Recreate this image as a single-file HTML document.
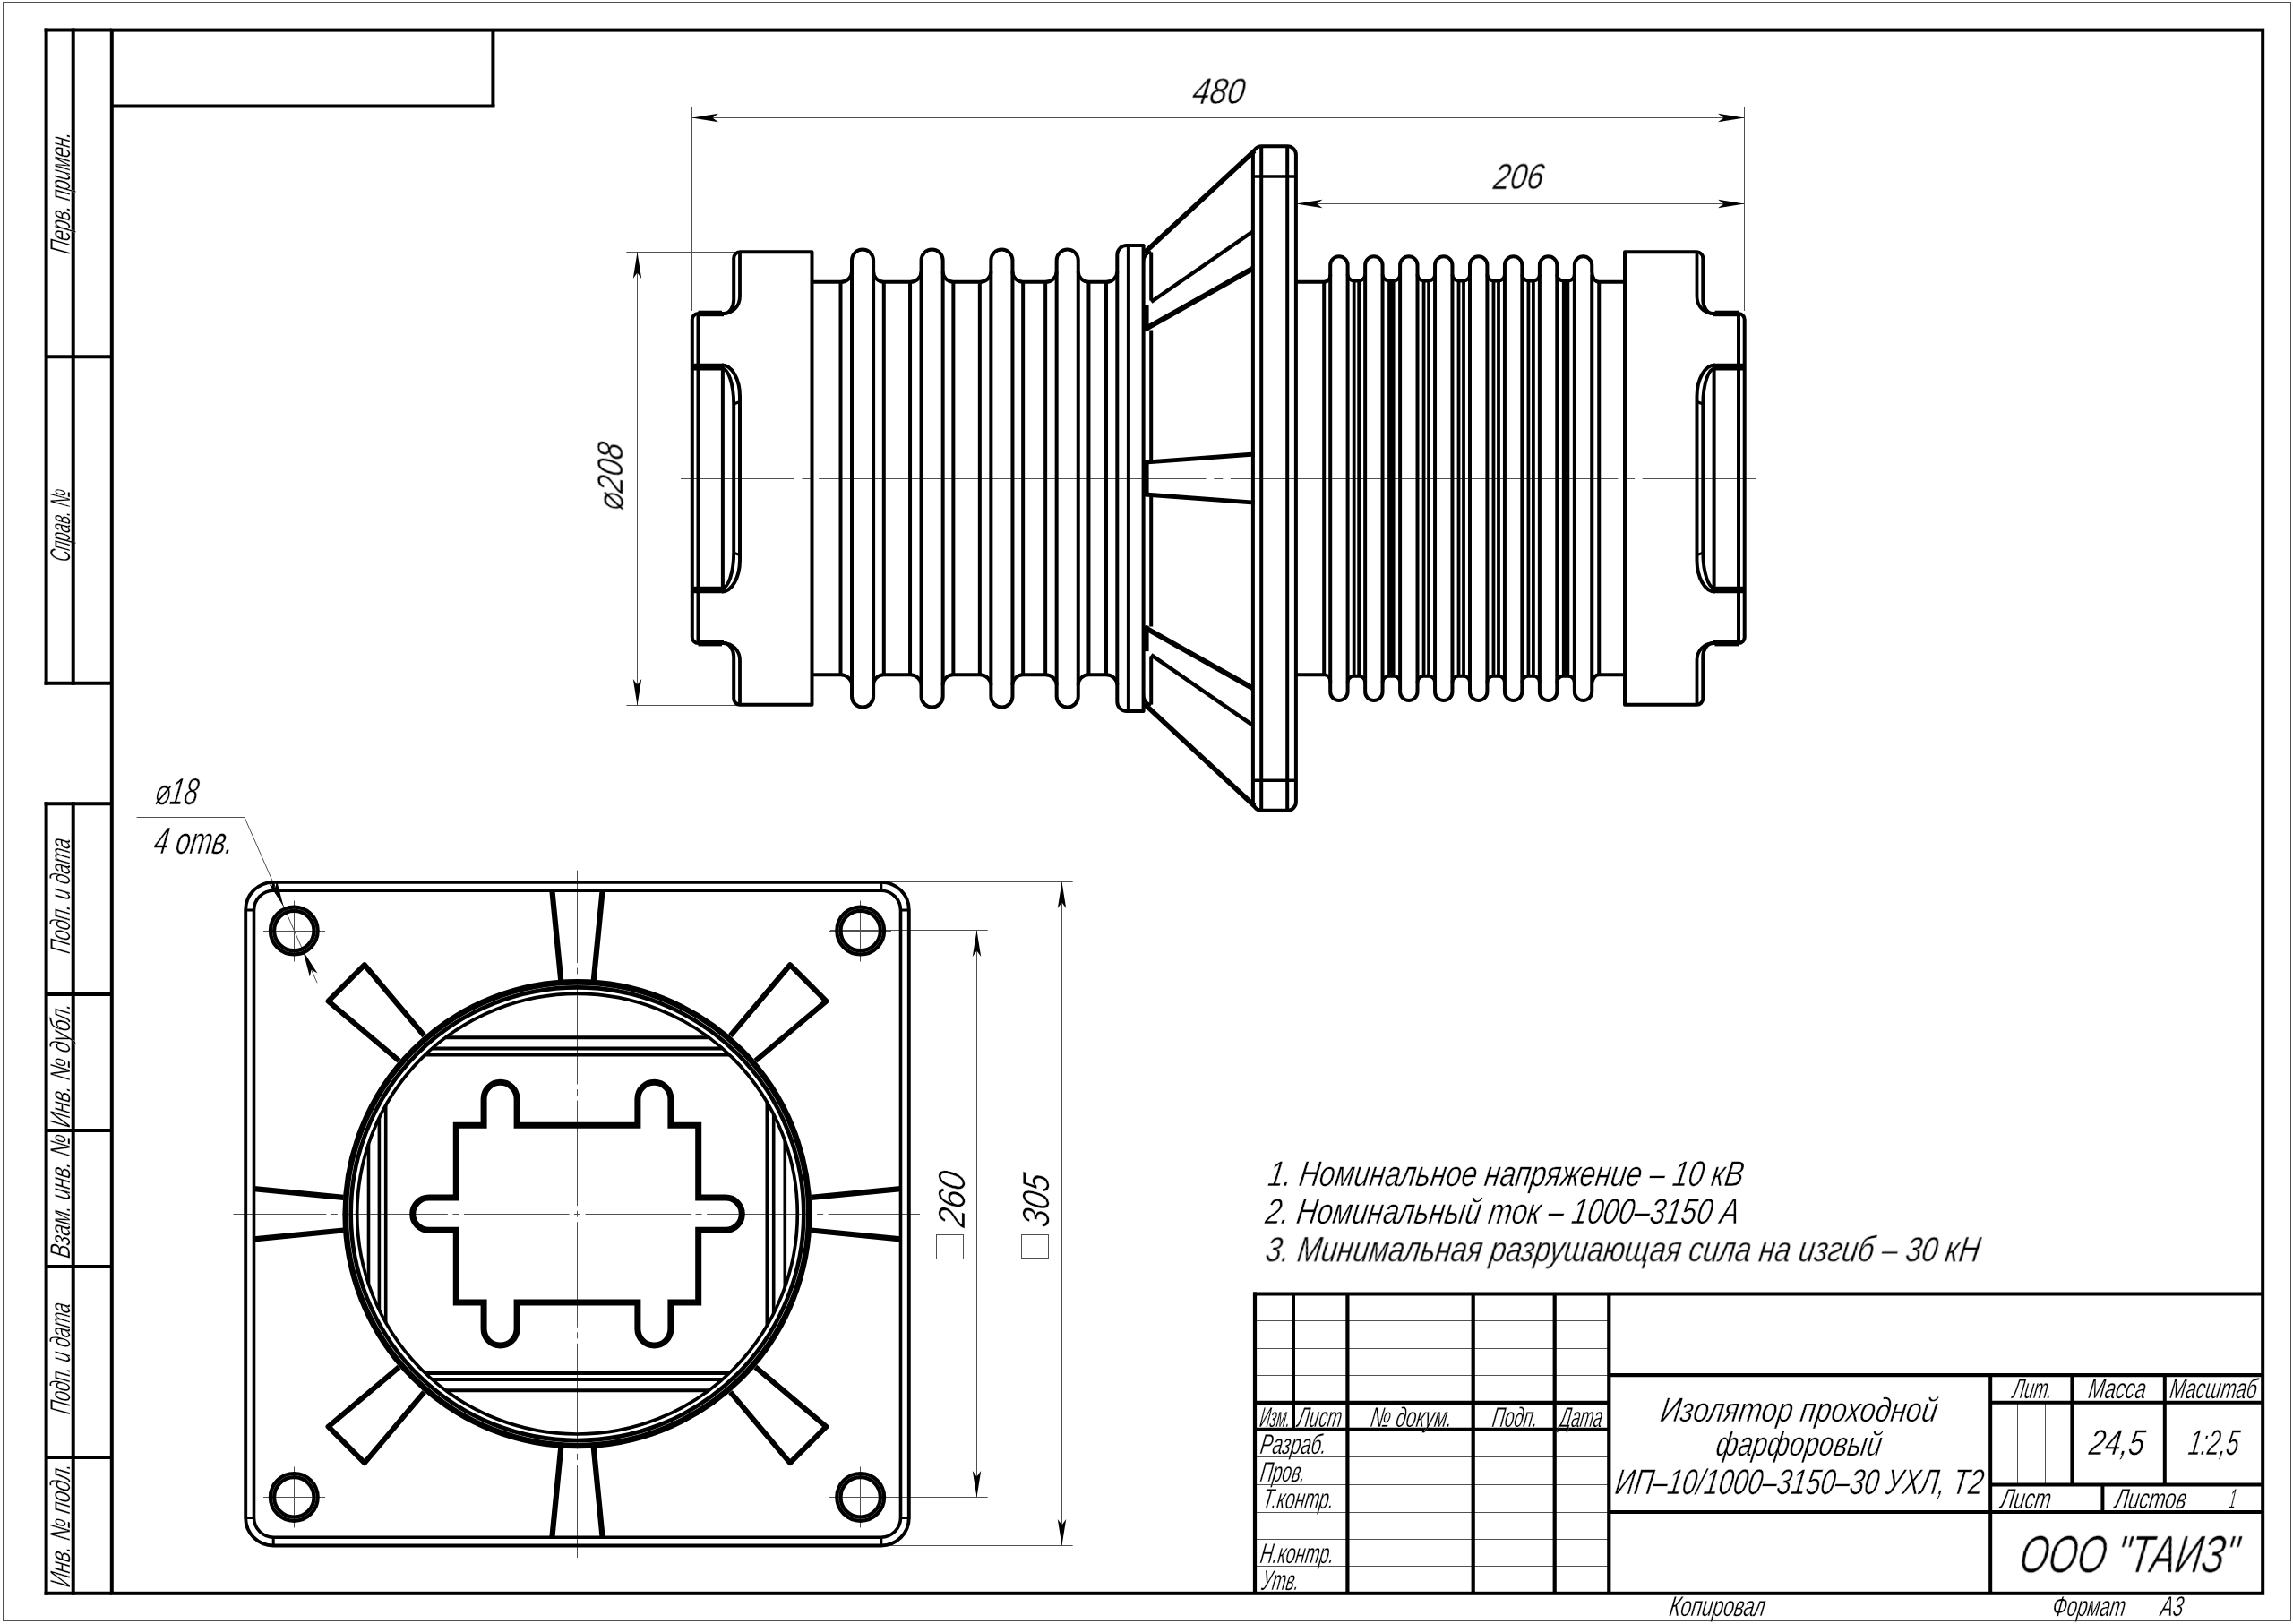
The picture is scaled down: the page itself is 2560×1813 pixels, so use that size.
<!DOCTYPE html>
<html lang="ru"><head><meta charset="utf-8"><title>Изолятор проходной фарфоровый ИП-10</title>
<style>html,body{margin:0;padding:0;background:#fff}svg{display:block}</style></head>
<body>
<svg width="2560" height="1813" viewBox="0 0 2560 1813">
<rect width="2560" height="1813" fill="#fff"/>
<rect x="3.5" y="2.5" width="2554.0" height="1807.0" fill="none" stroke="#505050" stroke-width="1"/>
<rect x="124.8" y="33.6" width="2401.3999999999996" height="1745.2" fill="none" stroke="#000" stroke-width="4"/>
<line x1="550.40" y1="33.60" x2="550.40" y2="118.40" stroke="#000" stroke-width="4" />
<line x1="124.80" y1="118.40" x2="552.40" y2="118.40" stroke="#000" stroke-width="4" />
<line x1="51.60" y1="31.60" x2="51.60" y2="764.80" stroke="#000" stroke-width="4" />
<line x1="81.70" y1="31.60" x2="81.70" y2="764.80" stroke="#000" stroke-width="4" />
<line x1="49.60" y1="33.60" x2="124.80" y2="33.60" stroke="#000" stroke-width="4" />
<line x1="51.60" y1="398.20" x2="124.80" y2="398.20" stroke="#000" stroke-width="4" />
<line x1="49.60" y1="762.80" x2="124.80" y2="762.80" stroke="#000" stroke-width="4" />
<line x1="51.60" y1="895.20" x2="51.60" y2="1780.80" stroke="#000" stroke-width="4" />
<line x1="81.70" y1="895.20" x2="81.70" y2="1780.80" stroke="#000" stroke-width="4" />
<line x1="49.60" y1="897.20" x2="124.80" y2="897.20" stroke="#000" stroke-width="4" />
<line x1="51.60" y1="1110.00" x2="124.80" y2="1110.00" stroke="#000" stroke-width="4" />
<line x1="51.60" y1="1262.00" x2="124.80" y2="1262.00" stroke="#000" stroke-width="4" />
<line x1="51.60" y1="1414.00" x2="124.80" y2="1414.00" stroke="#000" stroke-width="4" />
<line x1="51.60" y1="1626.90" x2="124.80" y2="1626.90" stroke="#000" stroke-width="4" />
<line x1="49.60" y1="1778.80" x2="124.80" y2="1778.80" stroke="#000" stroke-width="4" />
<line x1="1401.00" y1="1474.50" x2="1796.30" y2="1474.50" stroke="#505050" stroke-width="1" />
<line x1="1401.00" y1="1505.50" x2="1796.30" y2="1505.50" stroke="#505050" stroke-width="1" />
<line x1="1401.00" y1="1535.50" x2="1796.30" y2="1535.50" stroke="#505050" stroke-width="1" />
<line x1="1401.00" y1="1626.50" x2="1796.30" y2="1626.50" stroke="#505050" stroke-width="1" />
<line x1="1401.00" y1="1657.50" x2="1796.30" y2="1657.50" stroke="#505050" stroke-width="1" />
<line x1="1401.00" y1="1688.50" x2="1796.30" y2="1688.50" stroke="#505050" stroke-width="1" />
<line x1="1401.00" y1="1718.50" x2="1796.30" y2="1718.50" stroke="#505050" stroke-width="1" />
<line x1="1401.00" y1="1748.50" x2="1796.30" y2="1748.50" stroke="#505050" stroke-width="1" />
<line x1="2252.50" y1="1565.80" x2="2252.50" y2="1657.40" stroke="#505050" stroke-width="1" />
<line x1="2283.50" y1="1565.80" x2="2283.50" y2="1657.40" stroke="#505050" stroke-width="1" />
<line x1="1401.00" y1="1442.50" x2="1401.00" y2="1778.80" stroke="#000" stroke-width="4.2" />
<line x1="1444.00" y1="1444.50" x2="1444.00" y2="1595.80" stroke="#000" stroke-width="4" />
<line x1="1504.40" y1="1444.50" x2="1504.40" y2="1778.80" stroke="#000" stroke-width="4.2" />
<line x1="1644.70" y1="1444.50" x2="1644.70" y2="1778.80" stroke="#000" stroke-width="4.2" />
<line x1="1735.70" y1="1444.50" x2="1735.70" y2="1778.80" stroke="#000" stroke-width="4.2" />
<line x1="1796.30" y1="1444.50" x2="1796.30" y2="1778.80" stroke="#000" stroke-width="4.2" />
<line x1="1399.00" y1="1444.50" x2="2526.20" y2="1444.50" stroke="#000" stroke-width="4" />
<line x1="1401.00" y1="1565.80" x2="1796.30" y2="1565.80" stroke="#000" stroke-width="4.2" />
<line x1="1401.00" y1="1595.80" x2="1796.30" y2="1595.80" stroke="#000" stroke-width="4.2" />
<line x1="1796.30" y1="1535.20" x2="2526.20" y2="1535.20" stroke="#000" stroke-width="4.2" />
<line x1="1796.30" y1="1688.00" x2="2526.20" y2="1688.00" stroke="#000" stroke-width="4.2" />
<line x1="2222.20" y1="1535.20" x2="2222.20" y2="1778.80" stroke="#000" stroke-width="4" />
<line x1="2222.20" y1="1565.80" x2="2526.20" y2="1565.80" stroke="#000" stroke-width="4" />
<line x1="2222.20" y1="1657.40" x2="2526.20" y2="1657.40" stroke="#000" stroke-width="4" />
<line x1="2313.40" y1="1535.20" x2="2313.40" y2="1657.40" stroke="#000" stroke-width="4" />
<line x1="2416.80" y1="1535.20" x2="2416.80" y2="1657.40" stroke="#000" stroke-width="4" />
<line x1="2347.40" y1="1657.40" x2="2347.40" y2="1688.00" stroke="#000" stroke-width="4" />
<g stroke="#505050" stroke-width="1" fill="none">
<path d="M772.5,120V347M1947.5,119V347M772.5,131.5H1947.5"/>
<path d="M1447,227.5H1947.5"/>
<path d="M699.3,281.5H822M699.3,787.5H822M711.5,281.5V787.5"/>
<path d="M926.8,1038.5H1102.7M926.8,1671.5H1102.7M1090.5,1038.5V1671.5"/>
<path d="M985,984.5H1197.7M985,1725.5H1197.7M1185.5,984.5V1725.5"/>
<path d="M152.6,912.5H273L354.1,1097.3"/>
</g>
<line x1="760" y1="534.5" x2="1960.3" y2="534.5" stroke="#505050" stroke-width="1" stroke-dasharray="432.5 8.7 10 8.6" stroke-dashoffset="305.7"/>
<line x1="644.5" y1="971.7" x2="644.5" y2="1739" stroke="#505050" stroke-width="1" stroke-dasharray="117.6 5.5 7 5.5" stroke-dashoffset="14.3"/>
<line x1="260.4" y1="1355.5" x2="1027" y2="1355.5" stroke="#505050" stroke-width="1" stroke-dasharray="117.6 5.5 7 5.5" stroke-dashoffset="13.7"/>
<path d="M294.0,1039.5H363.0M328.5,1005.5V1073.5" stroke="#505050" stroke-width="1" fill="none"/>
<path d="M294.0,1671.5H363.0M328.5,1637.5V1705.5" stroke="#505050" stroke-width="1" fill="none"/>
<path d="M926.0,1039.5H995.0M960.5,1005.5V1073.5" stroke="#505050" stroke-width="1" fill="none"/>
<path d="M926.0,1671.5H995.0M960.5,1637.5V1705.5" stroke="#505050" stroke-width="1" fill="none"/>
<g fill="none" stroke="#000" stroke-linecap="butt" stroke-linejoin="round">
<path d="M772.80,534.05V356.7A6.7,6.7 0 0 1 779.50,350H808.00A11.2,15 0 0 0 819.20,335V288.3A7,7 0 0 1 826.20,281.3H906.50V534.05" stroke-width="4.0"/>
<path d="M779.50,348.3H806.00" stroke-width="3.2"/>
<path d="M779.50,351.6H808.00" stroke-width="3.2"/>
<path d="M779.50,350.00V534.05" stroke-width="4.0"/>
<path d="M826.00,281.3V331A18,19 0 0 1 808.00,350" stroke-width="3.8"/>
<path d="M772.80,409.6H808.00" stroke-width="7.6"/>
<path d="M806.90,411.00V534.05" stroke-width="4.0"/>
<path d="M806.00,407.6A20,35 0 0 1 826.00,442.5V534.05" stroke-width="4.0"/>
<path d="M806.00,411.4A13.2,40 0 0 1 819.20,451V534.05" stroke-width="3.9"/>
<path d="M819.20,451L826.00,448.5" stroke-width="3"/>
<path d="M1947.70,534.05V356.7A6.7,6.7 0 0 0 1941.00,350H1912.50A11.2,15 0 0 1 1901.30,335V288.3A7,7 0 0 0 1894.30,281.3H1814.00V534.05" stroke-width="4.0"/>
<path d="M1941.00,348.3H1914.50" stroke-width="3.2"/>
<path d="M1941.00,351.6H1912.50" stroke-width="3.2"/>
<path d="M1941.00,350.00V534.05" stroke-width="4.0"/>
<path d="M1894.50,281.3V331A18,19 0 0 0 1912.50,350" stroke-width="3.8"/>
<path d="M1947.70,409.6H1912.50" stroke-width="7.6"/>
<path d="M1913.60,411.00V534.05" stroke-width="4.0"/>
<path d="M1914.50,407.6A20,35 0 0 0 1894.50,442.5V534.05" stroke-width="4.0"/>
<path d="M1914.50,411.4A13.2,40 0 0 0 1901.30,451V534.05" stroke-width="3.9"/>
<path d="M1901.30,451L1894.50,448.5" stroke-width="3"/>
<path d="M938.50,314.80V534.05" stroke-width="4.0"/>
<path d="M951.00,303.30V534.05" stroke-width="4.0"/>
<path d="M975.10,303.30V534.05" stroke-width="4.0"/>
<path d="M986.80,314.80V534.05" stroke-width="4.0"/>
<path d="M1016.05,314.80V534.05" stroke-width="4.0"/>
<path d="M1028.55,303.30V534.05" stroke-width="4.0"/>
<path d="M1052.65,303.30V534.05" stroke-width="4.0"/>
<path d="M1064.35,314.80V534.05" stroke-width="4.0"/>
<path d="M1093.85,314.80V534.05" stroke-width="4.0"/>
<path d="M1106.35,303.30V534.05" stroke-width="4.0"/>
<path d="M1130.45,303.30V534.05" stroke-width="4.0"/>
<path d="M1142.15,314.80V534.05" stroke-width="4.0"/>
<path d="M1167.15,314.80V534.05" stroke-width="4.0"/>
<path d="M1179.65,303.30V534.05" stroke-width="4.0"/>
<path d="M1203.75,303.30V534.05" stroke-width="4.0"/>
<path d="M1215.45,314.80V534.05" stroke-width="4.0"/>
<path d="M906.5,314.8H938.50A12.5,11.5 0 0 0 951.00,303.30V290.65A12.05,12.05 0 0 1 975.10,290.65V303.30A11.7,11.5 0 0 0 986.80,314.8H1016.05A12.5,11.5 0 0 0 1028.55,303.30V290.65A12.05,12.05 0 0 1 1052.65,290.65V303.30A11.7,11.5 0 0 0 1064.35,314.8H1093.85A12.5,11.5 0 0 0 1106.35,303.30V290.65A12.05,12.05 0 0 1 1130.45,290.65V303.30A11.7,11.5 0 0 0 1142.15,314.8H1167.15A12.5,11.5 0 0 0 1179.65,303.30V290.65A12.05,12.05 0 0 1 1203.75,290.65V303.30A11.7,11.5 0 0 0 1215.45,314.8H1235A12.3,11.5 0 0 0 1247.3,303.30V284.6A10.5,10.5 0 0 1 1257.8,274.1H1276.6V534.05" stroke-width="4.0"/>
<path d="M1235.00,314.80V534.05" stroke-width="4.0"/>
<path d="M1247.30,303.30V534.05" stroke-width="4.0"/>
<path d="M1259.90,274.10V534.05" stroke-width="4.0"/>
<path d="M1276.6,294A9,12 0 0 1 1285.2,281.5" stroke-width="3"/>
<path d="M1285.20,281.50V335.50" stroke-width="4.0"/>
<path d="M1285.20,368.50V513.20" stroke-width="4.0"/>
<path d="M1279.00,341.00V369.50" stroke-width="7.2"/>
<path d="M1279.00,514.50V534.05" stroke-width="7.2"/>
<path d="M1277.5,282.3L1400.5,168.5" stroke-width="5.6"/>
<path d="M1285.2,337L1398.9,258.2" stroke-width="4.4"/>
<path d="M1278,367.6L1398.9,299.6" stroke-width="6.0"/>
<path d="M1278,516.1L1400.5,507" stroke-width="4.8"/>
<path d="M1398.9,534.05V172.5A9.5,9.2 0 0 1 1408.2,163.3H1437.4A9.5,9.5 0 0 1 1446.9,172.8V534.05" stroke-width="4.0"/>
<path d="M1408.20,163.30V534.05" stroke-width="4.0"/>
<path d="M1437.20,163.30V534.05" stroke-width="4.0"/>
<path d="M1398.9,196.9H1446.9" stroke-width="3.5"/>
<path d="M1478.20,314.80V534.05" stroke-width="4.0"/>
<path d="M1485.20,306.40V534.05" stroke-width="4.0"/>
<path d="M1504.60,306.40V534.05" stroke-width="4.0"/>
<path d="M1511.67,313.40V534.05" stroke-width="3.8"/>
<path d="M1517.17,313.40V534.05" stroke-width="3.8"/>
<path d="M1524.15,306.40V534.05" stroke-width="4.0"/>
<path d="M1543.55,306.40V534.05" stroke-width="4.0"/>
<path d="M1553.33,313.40V534.05" stroke-width="8.4"/>
<path d="M1563.10,306.40V534.05" stroke-width="4.0"/>
<path d="M1582.50,306.40V534.05" stroke-width="4.0"/>
<path d="M1589.58,313.40V534.05" stroke-width="3.8"/>
<path d="M1595.08,313.40V534.05" stroke-width="3.8"/>
<path d="M1602.05,306.40V534.05" stroke-width="4.0"/>
<path d="M1621.45,306.40V534.05" stroke-width="4.0"/>
<path d="M1628.52,313.40V534.05" stroke-width="3.8"/>
<path d="M1634.02,313.40V534.05" stroke-width="3.8"/>
<path d="M1641.00,306.40V534.05" stroke-width="4.0"/>
<path d="M1660.40,306.40V534.05" stroke-width="4.0"/>
<path d="M1667.48,313.40V534.05" stroke-width="3.8"/>
<path d="M1672.98,313.40V534.05" stroke-width="3.8"/>
<path d="M1679.95,306.40V534.05" stroke-width="4.0"/>
<path d="M1699.35,306.40V534.05" stroke-width="4.0"/>
<path d="M1706.42,313.40V534.05" stroke-width="3.8"/>
<path d="M1711.92,313.40V534.05" stroke-width="3.8"/>
<path d="M1718.90,306.40V534.05" stroke-width="4.0"/>
<path d="M1738.30,306.40V534.05" stroke-width="4.0"/>
<path d="M1748.08,313.40V534.05" stroke-width="8.4"/>
<path d="M1757.85,306.40V534.05" stroke-width="4.0"/>
<path d="M1777.25,306.40V534.05" stroke-width="4.0"/>
<path d="M1785.25,314.80V534.05" stroke-width="4.0"/>
<path d="M1446.9,314.8H1478.2A7,7 0 0 0 1485.20,307.80V295.90A9.7,9.7 0 0 1 1504.60,295.90V306.40A7,7 0 0 0 1511.60,313.4H1517.15A7,7 0 0 0 1524.15,306.40V295.90A9.7,9.7 0 0 1 1543.55,295.90V306.40A7,7 0 0 0 1550.55,313.4H1556.10A7,7 0 0 0 1563.10,306.40V295.90A9.7,9.7 0 0 1 1582.50,295.90V306.40A7,7 0 0 0 1589.50,313.4H1595.05A7,7 0 0 0 1602.05,306.40V295.90A9.7,9.7 0 0 1 1621.45,295.90V306.40A7,7 0 0 0 1628.45,313.4H1634.00A7,7 0 0 0 1641.00,306.40V295.90A9.7,9.7 0 0 1 1660.40,295.90V306.40A7,7 0 0 0 1667.40,313.4H1672.95A7,7 0 0 0 1679.95,306.40V295.90A9.7,9.7 0 0 1 1699.35,295.90V306.40A7,7 0 0 0 1706.35,313.4H1711.90A7,7 0 0 0 1718.90,306.40V295.90A9.7,9.7 0 0 1 1738.30,295.90V306.40A7,7 0 0 0 1745.30,313.4H1750.85A7,7 0 0 0 1757.85,306.40V295.90A9.7,9.7 0 0 1 1777.25,295.90V303.80A8,11 0 0 0 1785.25,314.8H1813.4" stroke-width="4.0"/>
<g transform="translate(0 1068.1) scale(1 -1)">
<path d="M772.80,534.05V356.7A6.7,6.7 0 0 1 779.50,350H808.00A11.2,15 0 0 0 819.20,335V288.3A7,7 0 0 1 826.20,281.3H906.50V534.05" stroke-width="4.0"/>
<path d="M779.50,348.3H806.00" stroke-width="3.2"/>
<path d="M779.50,351.6H808.00" stroke-width="3.2"/>
<path d="M779.50,350.00V534.05" stroke-width="4.0"/>
<path d="M826.00,281.3V331A18,19 0 0 1 808.00,350" stroke-width="3.8"/>
<path d="M772.80,409.6H808.00" stroke-width="7.6"/>
<path d="M806.90,411.00V534.05" stroke-width="4.0"/>
<path d="M806.00,407.6A20,35 0 0 1 826.00,442.5V534.05" stroke-width="4.0"/>
<path d="M806.00,411.4A13.2,40 0 0 1 819.20,451V534.05" stroke-width="3.9"/>
<path d="M819.20,451L826.00,448.5" stroke-width="3"/>
<path d="M1947.70,534.05V356.7A6.7,6.7 0 0 0 1941.00,350H1912.50A11.2,15 0 0 1 1901.30,335V288.3A7,7 0 0 0 1894.30,281.3H1814.00V534.05" stroke-width="4.0"/>
<path d="M1941.00,348.3H1914.50" stroke-width="3.2"/>
<path d="M1941.00,351.6H1912.50" stroke-width="3.2"/>
<path d="M1941.00,350.00V534.05" stroke-width="4.0"/>
<path d="M1894.50,281.3V331A18,19 0 0 0 1912.50,350" stroke-width="3.8"/>
<path d="M1947.70,409.6H1912.50" stroke-width="7.6"/>
<path d="M1913.60,411.00V534.05" stroke-width="4.0"/>
<path d="M1914.50,407.6A20,35 0 0 0 1894.50,442.5V534.05" stroke-width="4.0"/>
<path d="M1914.50,411.4A13.2,40 0 0 0 1901.30,451V534.05" stroke-width="3.9"/>
<path d="M1901.30,451L1894.50,448.5" stroke-width="3"/>
<path d="M938.50,314.80V534.05" stroke-width="4.0"/>
<path d="M951.00,303.30V534.05" stroke-width="4.0"/>
<path d="M975.10,303.30V534.05" stroke-width="4.0"/>
<path d="M986.80,314.80V534.05" stroke-width="4.0"/>
<path d="M1016.05,314.80V534.05" stroke-width="4.0"/>
<path d="M1028.55,303.30V534.05" stroke-width="4.0"/>
<path d="M1052.65,303.30V534.05" stroke-width="4.0"/>
<path d="M1064.35,314.80V534.05" stroke-width="4.0"/>
<path d="M1093.85,314.80V534.05" stroke-width="4.0"/>
<path d="M1106.35,303.30V534.05" stroke-width="4.0"/>
<path d="M1130.45,303.30V534.05" stroke-width="4.0"/>
<path d="M1142.15,314.80V534.05" stroke-width="4.0"/>
<path d="M1167.15,314.80V534.05" stroke-width="4.0"/>
<path d="M1179.65,303.30V534.05" stroke-width="4.0"/>
<path d="M1203.75,303.30V534.05" stroke-width="4.0"/>
<path d="M1215.45,314.80V534.05" stroke-width="4.0"/>
<path d="M906.5,314.8H938.50A12.5,11.5 0 0 0 951.00,303.30V290.65A12.05,12.05 0 0 1 975.10,290.65V303.30A11.7,11.5 0 0 0 986.80,314.8H1016.05A12.5,11.5 0 0 0 1028.55,303.30V290.65A12.05,12.05 0 0 1 1052.65,290.65V303.30A11.7,11.5 0 0 0 1064.35,314.8H1093.85A12.5,11.5 0 0 0 1106.35,303.30V290.65A12.05,12.05 0 0 1 1130.45,290.65V303.30A11.7,11.5 0 0 0 1142.15,314.8H1167.15A12.5,11.5 0 0 0 1179.65,303.30V290.65A12.05,12.05 0 0 1 1203.75,290.65V303.30A11.7,11.5 0 0 0 1215.45,314.8H1235A12.3,11.5 0 0 0 1247.3,303.30V284.6A10.5,10.5 0 0 1 1257.8,274.1H1276.6V534.05" stroke-width="4.0"/>
<path d="M1235.00,314.80V534.05" stroke-width="4.0"/>
<path d="M1247.30,303.30V534.05" stroke-width="4.0"/>
<path d="M1259.90,274.10V534.05" stroke-width="4.0"/>
<path d="M1276.6,294A9,12 0 0 1 1285.2,281.5" stroke-width="3"/>
<path d="M1285.20,281.50V335.50" stroke-width="4.0"/>
<path d="M1285.20,368.50V513.20" stroke-width="4.0"/>
<path d="M1279.00,341.00V369.50" stroke-width="7.2"/>
<path d="M1279.00,514.50V534.05" stroke-width="7.2"/>
<path d="M1277.5,282.3L1400.5,168.5" stroke-width="5.6"/>
<path d="M1285.2,337L1398.9,258.2" stroke-width="4.4"/>
<path d="M1278,367.6L1398.9,299.6" stroke-width="6.0"/>
<path d="M1278,516.1L1400.5,507" stroke-width="4.8"/>
<path d="M1398.9,534.05V172.5A9.5,9.2 0 0 1 1408.2,163.3H1437.4A9.5,9.5 0 0 1 1446.9,172.8V534.05" stroke-width="4.0"/>
<path d="M1408.20,163.30V534.05" stroke-width="4.0"/>
<path d="M1437.20,163.30V534.05" stroke-width="4.0"/>
<path d="M1398.9,196.9H1446.9" stroke-width="3.5"/>
<path d="M1478.20,314.80V534.05" stroke-width="4.0"/>
<path d="M1485.20,306.40V534.05" stroke-width="4.0"/>
<path d="M1504.60,306.40V534.05" stroke-width="4.0"/>
<path d="M1511.67,313.40V534.05" stroke-width="3.8"/>
<path d="M1517.17,313.40V534.05" stroke-width="3.8"/>
<path d="M1524.15,306.40V534.05" stroke-width="4.0"/>
<path d="M1543.55,306.40V534.05" stroke-width="4.0"/>
<path d="M1553.33,313.40V534.05" stroke-width="8.4"/>
<path d="M1563.10,306.40V534.05" stroke-width="4.0"/>
<path d="M1582.50,306.40V534.05" stroke-width="4.0"/>
<path d="M1589.58,313.40V534.05" stroke-width="3.8"/>
<path d="M1595.08,313.40V534.05" stroke-width="3.8"/>
<path d="M1602.05,306.40V534.05" stroke-width="4.0"/>
<path d="M1621.45,306.40V534.05" stroke-width="4.0"/>
<path d="M1628.52,313.40V534.05" stroke-width="3.8"/>
<path d="M1634.02,313.40V534.05" stroke-width="3.8"/>
<path d="M1641.00,306.40V534.05" stroke-width="4.0"/>
<path d="M1660.40,306.40V534.05" stroke-width="4.0"/>
<path d="M1667.48,313.40V534.05" stroke-width="3.8"/>
<path d="M1672.98,313.40V534.05" stroke-width="3.8"/>
<path d="M1679.95,306.40V534.05" stroke-width="4.0"/>
<path d="M1699.35,306.40V534.05" stroke-width="4.0"/>
<path d="M1706.42,313.40V534.05" stroke-width="3.8"/>
<path d="M1711.92,313.40V534.05" stroke-width="3.8"/>
<path d="M1718.90,306.40V534.05" stroke-width="4.0"/>
<path d="M1738.30,306.40V534.05" stroke-width="4.0"/>
<path d="M1748.08,313.40V534.05" stroke-width="8.4"/>
<path d="M1757.85,306.40V534.05" stroke-width="4.0"/>
<path d="M1777.25,306.40V534.05" stroke-width="4.0"/>
<path d="M1785.25,314.80V534.05" stroke-width="4.0"/>
<path d="M1446.9,314.8H1478.2A7,7 0 0 0 1485.20,307.80V295.90A9.7,9.7 0 0 1 1504.60,295.90V306.40A7,7 0 0 0 1511.60,313.4H1517.15A7,7 0 0 0 1524.15,306.40V295.90A9.7,9.7 0 0 1 1543.55,295.90V306.40A7,7 0 0 0 1550.55,313.4H1556.10A7,7 0 0 0 1563.10,306.40V295.90A9.7,9.7 0 0 1 1582.50,295.90V306.40A7,7 0 0 0 1589.50,313.4H1595.05A7,7 0 0 0 1602.05,306.40V295.90A9.7,9.7 0 0 1 1621.45,295.90V306.40A7,7 0 0 0 1628.45,313.4H1634.00A7,7 0 0 0 1641.00,306.40V295.90A9.7,9.7 0 0 1 1660.40,295.90V306.40A7,7 0 0 0 1667.40,313.4H1672.95A7,7 0 0 0 1679.95,306.40V295.90A9.7,9.7 0 0 1 1699.35,295.90V306.40A7,7 0 0 0 1706.35,313.4H1711.90A7,7 0 0 0 1718.90,306.40V295.90A9.7,9.7 0 0 1 1738.30,295.90V306.40A7,7 0 0 0 1745.30,313.4H1750.85A7,7 0 0 0 1757.85,306.40V295.90A9.7,9.7 0 0 1 1777.25,295.90V303.80A8,11 0 0 0 1785.25,314.8H1813.4" stroke-width="4.0"/>
</g></g>
<g fill="none" stroke="#000" transform="translate(644.5 1355.2)">
<rect x="-370.3" y="-370.3" width="740.6" height="740.6" rx="31" ry="31" stroke-width="3.9"/>
<rect x="-361.0" y="-361.0" width="722.0" height="722.0" rx="22" ry="22" stroke-width="3.6"/>
<path d="M-370.3,-339.3H-361.0M-339.3,-370.3V-361.0" stroke-width="3"/>
<path d="M-370.3,339.3H-361.0M-339.3,370.3V361.0" stroke-width="3"/>
<path d="M370.3,-339.3H361.0M339.3,-370.3V-361.0" stroke-width="3"/>
<path d="M370.3,339.3H361.0M339.3,370.3V361.0" stroke-width="3"/>
<circle cx="-316.2" cy="-316.2" r="22.2" stroke-width="4.2"/>
<circle cx="-316.2" cy="-316.2" r="26.4" stroke-width="4.2"/>
<circle cx="-316.2" cy="316.2" r="22.2" stroke-width="4.2"/>
<circle cx="-316.2" cy="316.2" r="26.4" stroke-width="4.2"/>
<circle cx="316.2" cy="-316.2" r="22.2" stroke-width="4.2"/>
<circle cx="316.2" cy="-316.2" r="26.4" stroke-width="4.2"/>
<circle cx="316.2" cy="316.2" r="22.2" stroke-width="4.2"/>
<circle cx="316.2" cy="316.2" r="26.4" stroke-width="4.2"/>
<circle r="258.8" stroke-width="6.6"/>
<circle r="252.8" stroke-width="4.6"/>
<circle r="245.8" stroke-width="3.7"/>
<path d="M-147.0,-197.0H147.0" stroke-width="4"/>
<path d="M-147.0,197.0H147.0" stroke-width="4"/>
<path d="M-162.1,-184.8H162.1" stroke-width="4"/>
<path d="M-162.1,184.8H162.1" stroke-width="4"/>
<path d="M-169.7,-177.8H169.7" stroke-width="4"/>
<path d="M-169.7,177.8H169.7" stroke-width="4"/>
<path d="M-213.8,-121.3V121.3" stroke-width="3.6"/>
<path d="M-221.1,-107.4V107.4" stroke-width="3.6"/>
<path d="M-233.0,-78.3V78.3" stroke-width="3.6"/>
<path d="M211.8,-124.7V124.7" stroke-width="3.6"/>
<path d="M219.2,-111.2V111.2" stroke-width="3.6"/>
<path d="M231.8,-81.8V81.8" stroke-width="3.6"/>
<g transform="rotate(0)">
<path d="M-28.1,-361.0L-18.3,-261M28.1,-361.0L18.3,-261" stroke-width="6.2"/>
</g>
<g transform="rotate(45)">
<path d="M-19.8,-261.5L-28.6,-364.5H28.6L19.8,-261.5" stroke-width="6" stroke-linejoin="round"/>
</g>
<g transform="rotate(90)">
<path d="M-28.1,-361.0L-18.3,-261M28.1,-361.0L18.3,-261" stroke-width="6.2"/>
</g>
<g transform="rotate(135)">
<path d="M-19.8,-261.5L-28.6,-364.5H28.6L19.8,-261.5" stroke-width="6" stroke-linejoin="round"/>
</g>
<g transform="rotate(180)">
<path d="M-28.1,-361.0L-18.3,-261M28.1,-361.0L18.3,-261" stroke-width="6.2"/>
</g>
<g transform="rotate(225)">
<path d="M-19.8,-261.5L-28.6,-364.5H28.6L19.8,-261.5" stroke-width="6" stroke-linejoin="round"/>
</g>
<g transform="rotate(270)">
<path d="M-28.1,-361.0L-18.3,-261M28.1,-361.0L18.3,-261" stroke-width="6.2"/>
</g>
<g transform="rotate(315)">
<path d="M-19.8,-261.5L-28.6,-364.5H28.6L19.8,-261.5" stroke-width="6" stroke-linejoin="round"/>
</g>
<path d="M-135.2,-98.85H-104.4V-128.35A18.5,18.5 0 0 1 -67.4,-128.35V-98.85H67.4V-128.35A18.5,18.5 0 0 1 104.4,-128.35V-98.85H135.2V-18.1H165.70000000000002A18.1,18.1 0 0 1 165.70000000000002,18.1H135.2V98.85H104.4V128.35A18.5,18.5 0 0 1 67.4,128.35V98.85H-67.4V128.35A18.5,18.5 0 0 1 -104.4,128.35V98.85H-135.2V18.1H-165.70000000000002A18.1,18.1 0 0 1 -165.70000000000002,-18.1H-135.2Z" stroke-width="7" stroke-linejoin="miter"/>
</g>
<path d="M0,0L-29.5,-4.7L-23.0,0L-29.5,4.7Z" fill="#000" stroke="none" transform="translate(772.5 131.5) rotate(180)"/>
<path d="M0,0L-29.5,-4.7L-23.0,0L-29.5,4.7Z" fill="#000" stroke="none" transform="translate(1947.5 131.5) rotate(0)"/>
<path d="M0,0L-29.5,-4.7L-23.0,0L-29.5,4.7Z" fill="#000" stroke="none" transform="translate(1447.0 227.5) rotate(180)"/>
<path d="M0,0L-29.5,-4.7L-23.0,0L-29.5,4.7Z" fill="#000" stroke="none" transform="translate(1947.5 227.5) rotate(0)"/>
<path d="M0,0L-29.5,-4.7L-23.0,0L-29.5,4.7Z" fill="#000" stroke="none" transform="translate(711.5 281.5) rotate(-90)"/>
<path d="M0,0L-29.5,-4.7L-23.0,0L-29.5,4.7Z" fill="#000" stroke="none" transform="translate(711.5 787.5) rotate(90)"/>
<path d="M0,0L-29.5,-4.7L-23.0,0L-29.5,4.7Z" fill="#000" stroke="none" transform="translate(1090.5 1038.5) rotate(-90)"/>
<path d="M0,0L-29.5,-4.7L-23.0,0L-29.5,4.7Z" fill="#000" stroke="none" transform="translate(1090.5 1671.5) rotate(90)"/>
<path d="M0,0L-29.5,-4.7L-23.0,0L-29.5,4.7Z" fill="#000" stroke="none" transform="translate(1185.5 984.5) rotate(-90)"/>
<path d="M0,0L-29.5,-4.7L-23.0,0L-29.5,4.7Z" fill="#000" stroke="none" transform="translate(1185.5 1725.5) rotate(90)"/>
<path d="M0,0L-29.5,-4.7L-23.0,0L-29.5,4.7Z" fill="#000" stroke="none" transform="translate(316.6 1012.0) rotate(66.27132292419964)"/>
<path d="M0,0L-29.5,-4.7L-23.0,0L-29.5,4.7Z" fill="#000" stroke="none" transform="translate(338.3 1061.5) rotate(246.27132292419964)"/>
<g font-family='"Liberation Sans", "DejaVu Sans", sans-serif' font-style="italic" fill="#000" style="opacity:0.995">
<text font-size="31.5" text-anchor="start" textLength="34.1" lengthAdjust="spacingAndGlyphs" transform="translate(1405.4 1592.5) skewX(-9)" stroke="#fff" stroke-width="0.25" >Изм.</text>
<text font-size="31.5" text-anchor="start" textLength="49.1" lengthAdjust="spacingAndGlyphs" transform="translate(1447.5 1592.5) skewX(-9)" stroke="#fff" stroke-width="0.25" >Лист</text>
<text font-size="31.5" text-anchor="start" textLength="91.1" lengthAdjust="spacingAndGlyphs" transform="translate(1529.0 1592.5) skewX(-9)" stroke="#fff" stroke-width="0.25" >№ докум.</text>
<text font-size="31.5" text-anchor="start" textLength="50.6" lengthAdjust="spacingAndGlyphs" transform="translate(1665.0 1592.5) skewX(-9)" stroke="#fff" stroke-width="0.25" >Подп.</text>
<text font-size="31.5" text-anchor="start" textLength="47.1" lengthAdjust="spacingAndGlyphs" transform="translate(1740.6 1592.5) skewX(-9)" stroke="#fff" stroke-width="0.25" >Дата</text>
<text font-size="31.5" text-anchor="start" textLength="73.6" lengthAdjust="spacingAndGlyphs" transform="translate(1406.0 1622.8) skewX(-9)" stroke="#fff" stroke-width="0.25" >Разраб.</text>
<text font-size="31.5" text-anchor="start" textLength="50.1" lengthAdjust="spacingAndGlyphs" transform="translate(1406.0 1653.5) skewX(-9)" stroke="#fff" stroke-width="0.25" >Пров.</text>
<text font-size="31.5" text-anchor="start" textLength="79.1" lengthAdjust="spacingAndGlyphs" transform="translate(1408.8 1683.5) skewX(-9)" stroke="#fff" stroke-width="0.25" >Т.контр.</text>
<text font-size="31.5" text-anchor="start" textLength="82.1" lengthAdjust="spacingAndGlyphs" transform="translate(1406.0 1744.5) skewX(-9)" stroke="#fff" stroke-width="0.25" >Н.контр.</text>
<text font-size="31.5" text-anchor="start" textLength="41.6" lengthAdjust="spacingAndGlyphs" transform="translate(1407.5 1774.6) skewX(-9)" stroke="#fff" stroke-width="0.25" >Утв.</text>
<text font-size="38" text-anchor="start" textLength="308.7" lengthAdjust="spacingAndGlyphs" transform="translate(1852.5 1587.4) skewX(-9)" stroke="#fff" stroke-width="0.4" >Изолятор проходной</text>
<text font-size="38" text-anchor="start" textLength="184.7" lengthAdjust="spacingAndGlyphs" transform="translate(1914.4 1624.5) skewX(-9)" stroke="#fff" stroke-width="0.4" >фарфоровый</text>
<text font-size="40" text-anchor="start" textLength="410.6" lengthAdjust="spacingAndGlyphs" transform="translate(1802.0 1667.5) skewX(-9)" stroke="#fff" stroke-width="0.4" >ИП–10/1000–3150–30 УХЛ, Т2</text>
<text font-size="31.5" text-anchor="start" textLength="44.1" lengthAdjust="spacingAndGlyphs" transform="translate(2246.0 1561.2) skewX(-9)" stroke="#fff" stroke-width="0.25" >Лит.</text>
<text font-size="31.5" text-anchor="start" textLength="64.1" lengthAdjust="spacingAndGlyphs" transform="translate(2330.4 1561.2) skewX(-9)" stroke="#fff" stroke-width="0.25" >Масса</text>
<text font-size="31.5" text-anchor="start" textLength="96.7" lengthAdjust="spacingAndGlyphs" transform="translate(2421.6 1561.2) skewX(-9)" stroke="#fff" stroke-width="0.25" >Масштаб</text>
<text font-size="40" text-anchor="start" textLength="61.6" lengthAdjust="spacingAndGlyphs" transform="translate(2331.0 1624.1) skewX(-9)" stroke="#fff" stroke-width="0.4" >24,5</text>
<text font-size="40" text-anchor="start" textLength="56.1" lengthAdjust="spacingAndGlyphs" transform="translate(2442.0 1624.1) skewX(-9)" stroke="#fff" stroke-width="0.4" >1:2,5</text>
<text font-size="31.5" text-anchor="start" textLength="56.1" lengthAdjust="spacingAndGlyphs" transform="translate(2232.4 1683.6) skewX(-9)" stroke="#fff" stroke-width="0.25" >Лист</text>
<text font-size="31.5" text-anchor="start" textLength="79.7" lengthAdjust="spacingAndGlyphs" transform="translate(2360.0 1683.6) skewX(-9)" stroke="#fff" stroke-width="0.25" >Листов</text>
<text font-size="31.5" text-anchor="start" textLength="7.6" lengthAdjust="spacingAndGlyphs" transform="translate(2487.6 1683.6) skewX(-9)" stroke="#fff" stroke-width="0.25" >1</text>
<text font-size="58" text-anchor="start" textLength="243.2" lengthAdjust="spacingAndGlyphs" transform="translate(2252.8 1755.0) skewX(-9)" stroke="#fff" stroke-width="0.7" >ООО &quot;ТАИЗ&quot;</text>
<text font-size="31.5" text-anchor="start" textLength="106.6" lengthAdjust="spacingAndGlyphs" transform="translate(1862.7 1804.4) skewX(-9)" stroke="#fff" stroke-width="0.25" >Копировал</text>
<text font-size="31.5" text-anchor="start" textLength="81.4" lengthAdjust="spacingAndGlyphs" transform="translate(2290.3 1804.4) skewX(-9)" stroke="#fff" stroke-width="0.25" >Формат</text>
<text font-size="31.5" text-anchor="start" textLength="25.3" lengthAdjust="spacingAndGlyphs" transform="translate(2411.0 1804.4) skewX(-9)" stroke="#fff" stroke-width="0.25" >А3</text>
<text font-size="40" text-anchor="start" textLength="530.3" lengthAdjust="spacingAndGlyphs" transform="translate(1414.5 1323.7) skewX(-9)" stroke="#fff" stroke-width="0.4" >1. Номинальное напряжение – 10 кВ</text>
<text font-size="40" text-anchor="start" textLength="528.3" lengthAdjust="spacingAndGlyphs" transform="translate(1411.5 1366.0) skewX(-9)" stroke="#fff" stroke-width="0.4" >2. Номинальный ток – 1000–3150 А</text>
<text font-size="40" text-anchor="start" textLength="797.0" lengthAdjust="spacingAndGlyphs" transform="translate(1411.5 1409.0) skewX(-9)" stroke="#fff" stroke-width="0.4" >3. Минимальная разрушающая сила на изгиб – 30 кН</text>
<text font-size="31.5" text-anchor="start" textLength="136.0" lengthAdjust="spacingAndGlyphs" transform="translate(77.6 284.5) rotate(-90) skewX(-9)" stroke="#fff" stroke-width="0.25" >Перв. примен.</text>
<text font-size="31.5" text-anchor="start" textLength="80.5" lengthAdjust="spacingAndGlyphs" transform="translate(77.6 628.0) rotate(-90) skewX(-9)" stroke="#fff" stroke-width="0.25" >Справ. №</text>
<text font-size="31.5" text-anchor="start" textLength="128.4" lengthAdjust="spacingAndGlyphs" transform="translate(77.6 1065.5) rotate(-90) skewX(-9)" stroke="#fff" stroke-width="0.25" >Подп. и дата</text>
<text font-size="31.5" text-anchor="start" textLength="138.3" lengthAdjust="spacingAndGlyphs" transform="translate(77.6 1259.6) rotate(-90) skewX(-9)" stroke="#fff" stroke-width="0.25" >Инв. № дубл.</text>
<text font-size="31.5" text-anchor="start" textLength="137.7" lengthAdjust="spacingAndGlyphs" transform="translate(77.6 1405.5) rotate(-90) skewX(-9)" stroke="#fff" stroke-width="0.25" >Взам. инв. №</text>
<text font-size="31.5" text-anchor="start" textLength="124.0" lengthAdjust="spacingAndGlyphs" transform="translate(77.6 1579.7) rotate(-90) skewX(-9)" stroke="#fff" stroke-width="0.25" >Подп. и дата</text>
<text font-size="31.5" text-anchor="start" textLength="137.9" lengthAdjust="spacingAndGlyphs" transform="translate(77.6 1772.8) rotate(-90) skewX(-9)" stroke="#fff" stroke-width="0.25" >Инв. № подл.</text>
<text font-size="42" text-anchor="start" textLength="58.1" lengthAdjust="spacingAndGlyphs" transform="translate(1329.7 116.5) skewX(-9)" stroke="#fff" stroke-width="0.4" >480</text>
<text font-size="42" text-anchor="start" textLength="55.5" lengthAdjust="spacingAndGlyphs" transform="translate(1666.0 211.7) skewX(-9)" stroke="#fff" stroke-width="0.4" >206</text>
<text font-size="42" text-anchor="start" textLength="75.5" lengthAdjust="spacingAndGlyphs" transform="translate(696.0 571.6) rotate(-90) skewX(-9)" stroke="#fff" stroke-width="0.4" >⌀208</text>
<text font-size="42" text-anchor="start" textLength="48.0" lengthAdjust="spacingAndGlyphs" transform="translate(171.5 898.4) skewX(-9)" stroke="#fff" stroke-width="0.4" >⌀18</text>
<text font-size="42" text-anchor="start" textLength="88.3" lengthAdjust="spacingAndGlyphs" transform="translate(170.4 953.4) skewX(-9)" stroke="#fff" stroke-width="0.4" >4 отв.</text>
<text font-size="42" text-anchor="start" textLength="61.5" lengthAdjust="spacingAndGlyphs" transform="translate(1077.0 1371.3) rotate(-90) skewX(-9)" stroke="#fff" stroke-width="0.4" >260</text>
<text font-size="42" text-anchor="start" textLength="59.0" lengthAdjust="spacingAndGlyphs" transform="translate(1170.6 1371.3) rotate(-90) skewX(-9)" stroke="#fff" stroke-width="0.4" >305</text>
</g>
<rect x="1045.5" y="1378.5" width="30" height="27" fill="none" stroke="#505050" stroke-width="1"/>
<rect x="1140.5" y="1378.5" width="30" height="26" fill="none" stroke="#505050" stroke-width="1"/>
</svg>
</body></html>
